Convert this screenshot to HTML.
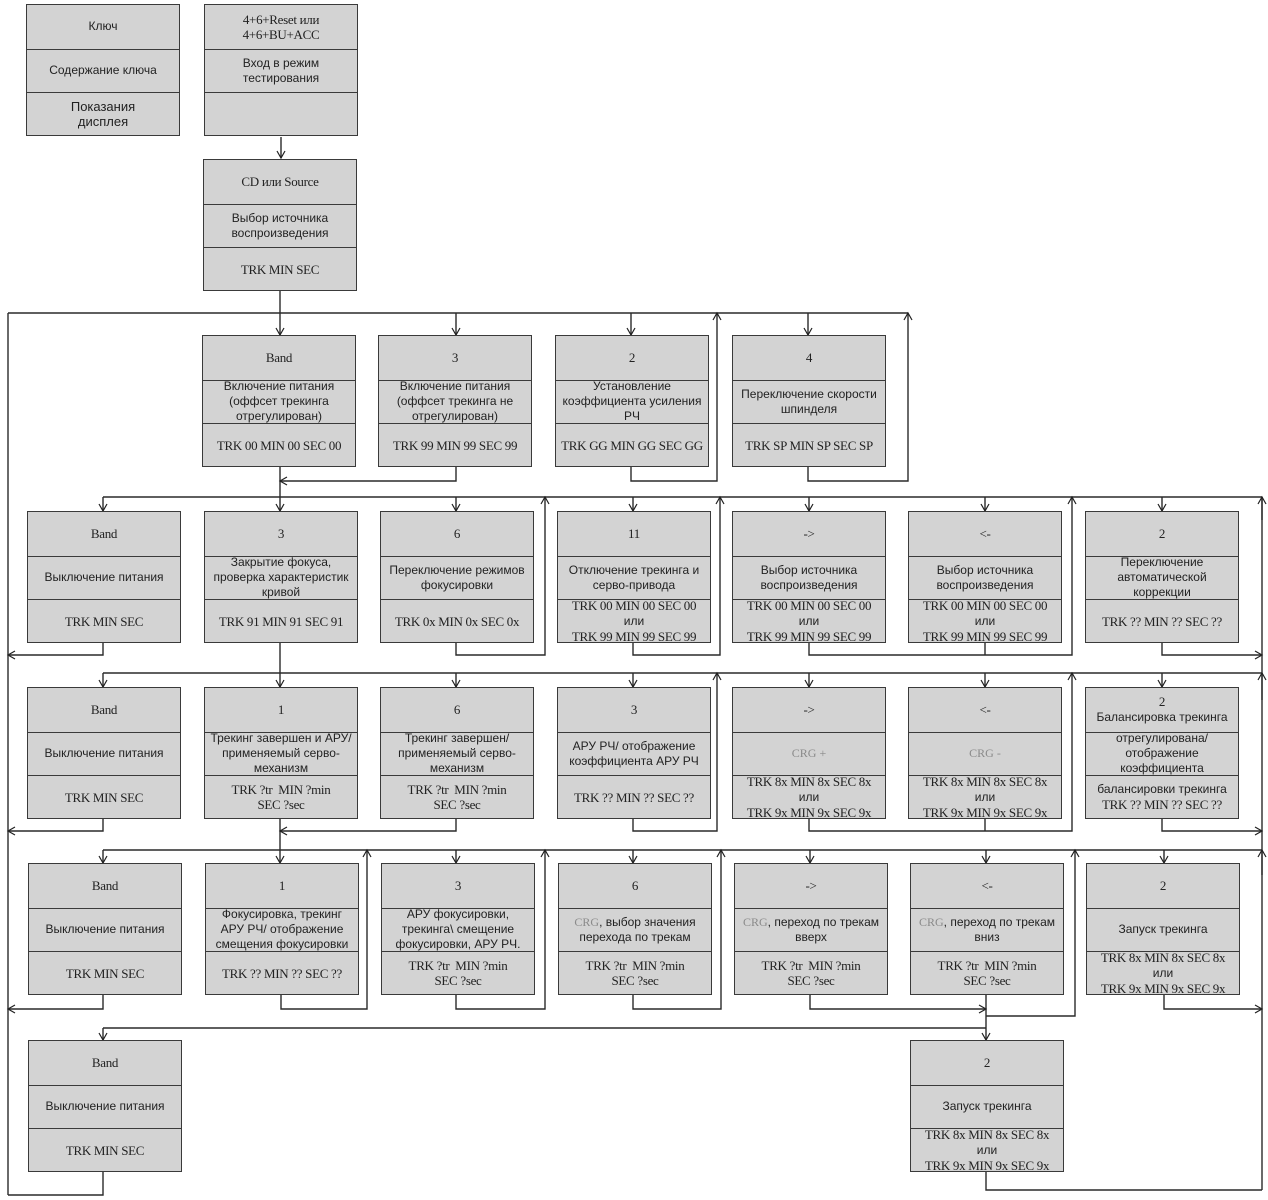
<!DOCTYPE html>
<html><head><meta charset="utf-8"><style>
body{margin:0;width:1268px;height:1200px;background:#fff;position:relative;overflow:hidden}
.b{position:absolute;width:154px;height:132px;border:1.5px solid #3a3a3a;background:#d3d3d3;box-sizing:border-box}
.s{height:43.5px;display:flex;align-items:center;justify-content:center;text-align:center;font-family:"Liberation Sans","DejaVu Sans",sans-serif;font-size:12px;line-height:15px;color:#222;box-sizing:border-box;overflow:visible;white-space:nowrap}
.s+.s{border-top:1.5px solid #3a3a3a}
.r{font-family:"Liberation Serif",serif;font-size:13px;line-height:15px;letter-spacing:-0.3px}
.s.r{font-family:"Liberation Serif",serif}
.o{font-family:"Liberation Sans",sans-serif;font-size:12px;letter-spacing:0}
.g{color:#8a8a8a;font-family:"Liberation Serif",serif}
svg{position:absolute;left:0;top:0}
</style></head><body>
<svg width="1268" height="1200"><defs>
<marker id="a" markerWidth="10" markerHeight="10" refX="8" refY="5" orient="auto" markerUnits="userSpaceOnUse"><polyline points="1,1 8,5 1,9" fill="none" stroke="#222" stroke-width="1.2"/></marker></defs>
<g fill="none" stroke="#2a2a2a" stroke-width="1.4">
<path d="M281 137V158" marker-end="url(#a)"/>
<path d="M280 291V335" marker-end="url(#a)"/>
<path d="M8 313H908"/>
<path d="M456 313V335" marker-end="url(#a)"/><path d="M631 313V335" marker-end="url(#a)"/><path d="M808 313V335" marker-end="url(#a)"/>
<path d="M280 467V511" marker-end="url(#a)"/>
<path d="M456 467V481H280" marker-end="url(#a)"/>
<path d="M631 467V481H717V313" marker-end="url(#a)"/>
<path d="M808 467V481H908V313" marker-end="url(#a)"/>
<path d="M103 497H1262"/>
<path d="M103 497V511" marker-end="url(#a)"/><path d="M456 497V511" marker-end="url(#a)"/><path d="M633 497V511" marker-end="url(#a)"/><path d="M809 497V511" marker-end="url(#a)"/><path d="M985 497V511" marker-end="url(#a)"/><path d="M1162 497V511" marker-end="url(#a)"/>
<path d="M103 643V655H8" marker-end="url(#a)"/>
<path d="M280 643V687" marker-end="url(#a)"/>
<path d="M456 643V655H545V497" marker-end="url(#a)"/>
<path d="M633 643V655H720V497" marker-end="url(#a)"/>
<path d="M809 643V655H1072V497" marker-end="url(#a)"/><path d="M985 643V655"/>
<path d="M1162 643V655H1262" marker-end="url(#a)"/>
<path d="M1262 497V1190"/><path d="M1262 520V497" marker-end="url(#a)"/>
<path d="M103 673H1262"/>
<path d="M103 673V687" marker-end="url(#a)"/><path d="M456 673V687" marker-end="url(#a)"/><path d="M633 673V687" marker-end="url(#a)"/><path d="M809 673V687" marker-end="url(#a)"/><path d="M985 673V687" marker-end="url(#a)"/><path d="M1162 673V687" marker-end="url(#a)"/>
<path d="M103 819V831H8" marker-end="url(#a)"/>
<path d="M280 819V863" marker-end="url(#a)"/>
<path d="M456 819V831H280" marker-end="url(#a)"/>
<path d="M633 819V831H717V673" marker-end="url(#a)"/>
<path d="M809 819V831H1072V673" marker-end="url(#a)"/><path d="M985 819V831"/>
<path d="M1162 819V831H1262" marker-end="url(#a)"/>
<path d="M1262 700V673" marker-end="url(#a)"/>
<path d="M103 850H1262"/>
<path d="M103 850V863" marker-end="url(#a)"/><path d="M456 850V863" marker-end="url(#a)"/><path d="M633 850V863" marker-end="url(#a)"/><path d="M810 850V863" marker-end="url(#a)"/><path d="M986 850V863" marker-end="url(#a)"/><path d="M1164 850V863" marker-end="url(#a)"/>
<path d="M1262 875V850" marker-end="url(#a)"/>
<path d="M103 995V1009H8" marker-end="url(#a)"/>
<path d="M281 995V1009H367V850" marker-end="url(#a)"/>
<path d="M456 995V1009H545V850" marker-end="url(#a)"/>
<path d="M633 995V1009H721V850" marker-end="url(#a)"/>
<path d="M810 995V1009H986" marker-end="url(#a)"/>
<path d="M986 995V1040" marker-end="url(#a)"/>
<path d="M986 1016H1075V850" marker-end="url(#a)"/>
<path d="M1164 995V1009H1262" marker-end="url(#a)"/>
<path d="M103 1028H986"/><path d="M103 1028V1040" marker-end="url(#a)"/>
<path d="M103 1172V1195H8"/>
<path d="M986 1172V1190H1262"/>
<path d="M8 313V1195"/>
</g></svg>

<div class="b" style="left:26px;top:4px"><div class="s">Ключ</div><div class="s">Содержание ключа</div><div class="s" style="font-size:13px"><span>Показания<br>дисплея</span></div></div>
<div class="b" style="left:204px;top:4px"><div class="s r"><span>4+6+Reset или<br>4+6+BU+ACC</span></div><div class="s"><span>Вход в режим<br>тестирования</span></div><div class="s"></div></div>
<div class="b" style="left:203px;top:159px"><div class="s r">CD или Source</div><div class="s"><span>Выбор источника<br>воспроизведения</span></div><div class="s r">TRK MIN SEC</div></div>

<div class="b" style="left:202px;top:335px"><div class="s r">Band</div><div class="s"><span>Включение питания<br>(оффсет трекинга<br>отрегулирован)</span></div><div class="s r">TRK 00 MIN 00 SEC 00</div></div>
<div class="b" style="left:378px;top:335px"><div class="s r">3</div><div class="s"><span>Включение питания<br>(оффсет трекинга не<br>отрегулирован)</span></div><div class="s r">TRK 99 MIN 99 SEC 99</div></div>
<div class="b" style="left:555px;top:335px"><div class="s r">2</div><div class="s"><span>Установление<br>коэффициента усиления<br>РЧ</span></div><div class="s r">TRK GG MIN GG SEC GG</div></div>
<div class="b" style="left:732px;top:335px"><div class="s r">4</div><div class="s"><span>Переключение скорости<br>шпинделя</span></div><div class="s r">TRK SP MIN SP SEC SP</div></div>

<div class="b" style="left:27px;top:511px"><div class="s r">Band</div><div class="s">Выключение питания</div><div class="s r">TRK MIN SEC</div></div>
<div class="b" style="left:204px;top:511px"><div class="s r">3</div><div class="s"><span>Закрытие фокуса,<br>проверка характеристик<br>кривой</span></div><div class="s r">TRK 91 MIN 91 SEC 91</div></div>
<div class="b" style="left:380px;top:511px"><div class="s r">6</div><div class="s"><span>Переключение режимов<br>фокусировки</span></div><div class="s r">TRK 0x MIN 0x SEC 0x</div></div>
<div class="b" style="left:557px;top:511px"><div class="s r">11</div><div class="s"><span>Отключение трекинга и<br>серво-привода</span></div><div class="s r"><span>TRK 00 MIN 00 SEC 00<br><span class="o">или</span><br>TRK 99 MIN 99 SEC 99</span></div></div>
<div class="b" style="left:732px;top:511px"><div class="s r">-&gt;</div><div class="s"><span>Выбор источника<br>воспроизведения</span></div><div class="s r"><span>TRK 00 MIN 00 SEC 00<br><span class="o">или</span><br>TRK 99 MIN 99 SEC 99</span></div></div>
<div class="b" style="left:908px;top:511px"><div class="s r">&lt;-</div><div class="s"><span>Выбор источника<br>воспроизведения</span></div><div class="s r"><span>TRK 00 MIN 00 SEC 00<br><span class="o">или</span><br>TRK 99 MIN 99 SEC 99</span></div></div>
<div class="b" style="left:1085px;top:511px"><div class="s r">2</div><div class="s"><span>Переключение<br>автоматической<br>коррекции</span></div><div class="s r">TRK ?? MIN ?? SEC ??</div></div>

<div class="b" style="left:27px;top:687px"><div class="s r">Band</div><div class="s">Выключение питания</div><div class="s r">TRK MIN SEC</div></div>
<div class="b" style="left:204px;top:687px"><div class="s r">1</div><div class="s"><span>Трекинг завершен и АРУ/<br>применяемый серво-<br>механизм</span></div><div class="s r"><span>TRK ?tr &nbsp;MIN ?min<br>SEC ?sec</span></div></div>
<div class="b" style="left:380px;top:687px"><div class="s r">6</div><div class="s"><span>Трекинг завершен/<br>применяемый серво-<br>механизм</span></div><div class="s r"><span>TRK ?tr &nbsp;MIN ?min<br>SEC ?sec</span></div></div>
<div class="b" style="left:557px;top:687px"><div class="s r">3</div><div class="s"><span>АРУ РЧ/ отображение<br>коэффициента АРУ РЧ</span></div><div class="s r">TRK ?? MIN ?? SEC ??</div></div>
<div class="b" style="left:732px;top:687px"><div class="s r">-&gt;</div><div class="s g">CRG +</div><div class="s r"><span>TRK 8x MIN 8x SEC 8x<br><span class="o">или</span><br>TRK 9x MIN 9x SEC 9x</span></div></div>
<div class="b" style="left:908px;top:687px"><div class="s r">&lt;-</div><div class="s g">CRG -</div><div class="s r"><span>TRK 8x MIN 8x SEC 8x<br><span class="o">или</span><br>TRK 9x MIN 9x SEC 9x</span></div></div>
<div class="b" style="left:1085px;top:687px"><div class="s"><span><span class="r">2</span><br>Балансировка трекинга</span></div><div class="s"><span>отрегулирована/<br>отображение<br>коэффициента</span></div><div class="s"><span>балансировки трекинга<br><span class="r">TRK ?? MIN ?? SEC ??</span></span></div></div>

<div class="b" style="left:28px;top:863px"><div class="s r">Band</div><div class="s">Выключение питания</div><div class="s r">TRK MIN SEC</div></div>
<div class="b" style="left:205px;top:863px"><div class="s r">1</div><div class="s"><span>Фокусировка, трекинг<br>АРУ РЧ/ отображение<br>смещения фокусировки</span></div><div class="s r">TRK ?? MIN ?? SEC ??</div></div>
<div class="b" style="left:381px;top:863px"><div class="s r">3</div><div class="s"><span>АРУ фокусировки,<br>трекинга\ смещение<br>фокусировки, АРУ РЧ.</span></div><div class="s r"><span>TRK ?tr &nbsp;MIN ?min<br>SEC ?sec</span></div></div>
<div class="b" style="left:558px;top:863px"><div class="s r">6</div><div class="s"><span><span class="g">CRG</span>, выбор значения<br>перехода по трекам</span></div><div class="s r"><span>TRK ?tr &nbsp;MIN ?min<br>SEC ?sec</span></div></div>
<div class="b" style="left:734px;top:863px"><div class="s r">-&gt;</div><div class="s"><span><span class="g">CRG</span>, переход по трекам<br>вверх</span></div><div class="s r"><span>TRK ?tr &nbsp;MIN ?min<br>SEC ?sec</span></div></div>
<div class="b" style="left:910px;top:863px"><div class="s r">&lt;-</div><div class="s"><span><span class="g">CRG</span>, переход по трекам<br>вниз</span></div><div class="s r"><span>TRK ?tr &nbsp;MIN ?min<br>SEC ?sec</span></div></div>
<div class="b" style="left:1086px;top:863px"><div class="s r">2</div><div class="s">Запуск трекинга</div><div class="s r"><span>TRK 8x MIN 8x SEC 8x<br><span class="o">или</span><br>TRK 9x MIN 9x SEC 9x</span></div></div>

<div class="b" style="left:28px;top:1040px"><div class="s r">Band</div><div class="s">Выключение питания</div><div class="s r">TRK MIN SEC</div></div>
<div class="b" style="left:910px;top:1040px"><div class="s r">2</div><div class="s">Запуск трекинга</div><div class="s r"><span>TRK 8x MIN 8x SEC 8x<br><span class="o">или</span><br>TRK 9x MIN 9x SEC 9x</span></div></div>
</body></html>
